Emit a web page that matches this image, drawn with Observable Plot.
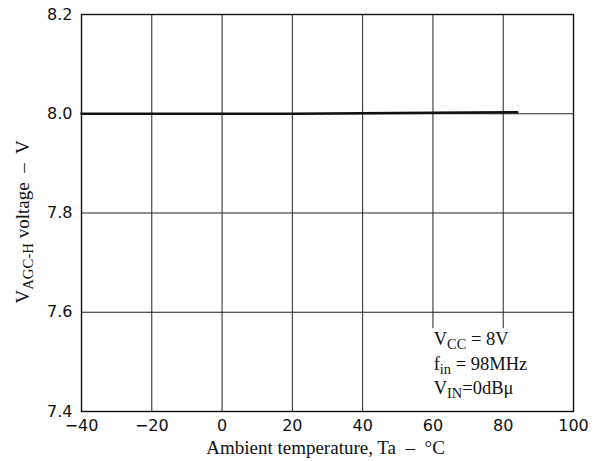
<!DOCTYPE html>
<html><head><meta charset="utf-8">
<script src="https://cdn.jsdelivr.net/npm/d3@7"></script>
<script src="https://cdn.jsdelivr.net/npm/@observablehq/plot@0.6"></script>
<style>
html,body{margin:0;padding:0;background:#fff;overflow:hidden}
#chart svg{display:block}
#chart svg text{white-space:pre}
</style></head><body><div id="chart"></div><script>
// ---- data ----
const temperature = [-40, -20, 0, 20, 40, 60, 84];
const voltage = [8.0, 8.0, 8.0, 8.0, 8.001, 8.002, 8.003];
const xTicks = [-40, -20, 0, 20, 40, 60, 80, 100];
const xTickLabels = ["\u221240", "\u221220", "0", "20", "40", "60", "80", "100"];
const yTicks = [7.4, 7.6, 7.8, 8.0, 8.2];
const yTickLabels = ["7.4", "7.6", "7.8", "8.0", "8.2"];
const xLabel = "Ambient temperature, Ta  \u2013  \u00b0C";
const yLabel = "V_{AGC-H} voltage  \u2013  V";
const conditionLines = ["V_{CC} = 8V", "f_{in} = 98MHz", "V_{IN}=0dB\u03bc"];
const conditionY = [7.533, 7.4846, 7.436];
const conditionX = [60.2, 60.2, 60.2];

const rows = temperature.map((t, i) => ({t, v: voltage[i]}));
const notes = conditionLines.map((s, i) => ({s, x: conditionX[i], y: conditionY[i]}));

const sans = "DejaVu Sans, sans-serif";
const serif = "Liberation Serif, DejaVu Serif, serif";

const chart = Plot.plot({
  width: 593,
  height: 461,
  marginLeft: 81,
  marginRight: 20,
  marginTop: 14,
  marginBottom: 50,
  style: {background: "#fff", color: "#111"},
  x: {domain: [-40, 100]},
  y: {domain: [7.4, 8.2]},
  marks: [
    Plot.ruleX(xTicks, {stroke: "#222", strokeWidth: 1}),
    Plot.ruleY(yTicks, {stroke: "#222", strokeWidth: 1}),
    Plot.rect([{x1: 58, x2: 100, y1: 7.4, y2: 7.567}], {x1: "x1", x2: "x2", y1: "y1", y2: "y2", fill: "#fff"}),
    Plot.frame({stroke: "#111", strokeWidth: 1.4}),
    Plot.line(rows, {x: "t", y: "v", stroke: "#111", strokeWidth: 2.6}),
    Plot.axisX({ticks: xTicks, tickFormat: (d, i) => xTickLabels[i], tickSize: 0, tickPadding: 8,
      label: null, fontFamily: sans, fontSize: 16, fill: "#111"}),
    Plot.axisY({ticks: yTicks, tickFormat: (d, i) => yTickLabels[i], tickSize: 0, tickPadding: 9,
      label: null, fontFamily: sans, fontSize: 16, fill: "#111"}),
    Plot.text([xLabel], {frameAnchor: "bottom", textAnchor: "middle", lineAnchor: "bottom", dx: -2, dy: 42,
      fontFamily: serif, fontSize: 19, fill: "#111"}),
    Plot.text([yLabel], {frameAnchor: "left", textAnchor: "middle", lineAnchor: "middle", rotate: -90, dx: -59, dy: 9,
      fontFamily: serif, fontSize: 19, fill: "#111"}),
    Plot.text(notes, {x: "x", y: "y", text: "s", textAnchor: "start", lineAnchor: "bottom",
      fontFamily: serif, fontSize: 18.5, fill: "#111"})
  ]
});
document.getElementById("chart").appendChild(chart);

// render "_{...}" as subscripts
d3.select(chart).selectAll("text").each(function() {
  const el = this;
  if (el.querySelector("tspan")) return;
  const s = el.textContent;
  if (!s.includes("_{")) return;
  el.textContent = "";
  const parts = s.split(/(_\{[^}]*\})/).filter(p => p.length);
  let shifted = false;
  for (const p of parts) {
    const ts = d3.select(el).append("tspan");
    if (p.startsWith("_{")) {
      ts.text(p.slice(2, -1)).attr("font-size", "0.78em").attr("dy", 4);
      shifted = true;
    } else {
      ts.text(p);
      if (shifted) { ts.attr("dy", -4); shifted = false; }
    }
  }
});
</script></body></html>
